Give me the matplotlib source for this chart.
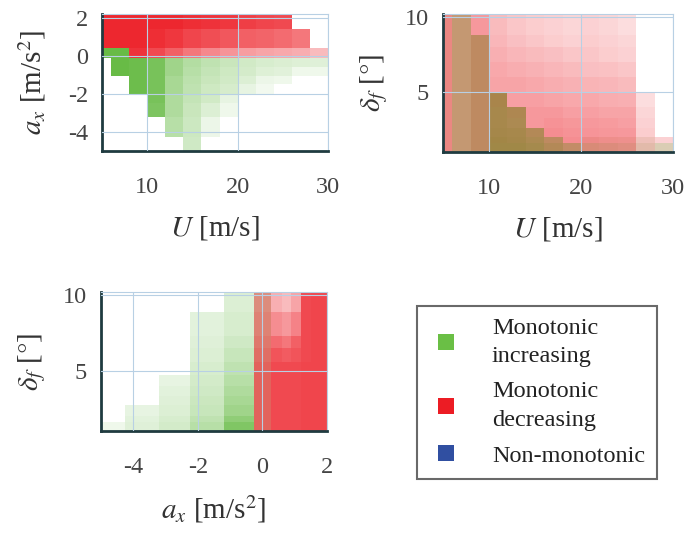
import numpy as np
import matplotlib
matplotlib.use("Agg")
import matplotlib.pyplot as plt
from matplotlib.colors import LinearSegmentedColormap
from matplotlib.lines import Line2D

plt.rcParams["font.family"] = ["Liberation Serif", "DejaVu Serif"]
plt.rcParams["mathtext.fontset"] = "stix"
plt.rcParams["axes.unicode_minus"] = False

# ---------------- data ----------------
# Speed bins (shared by the two speed panels)
U_edges = [5, 6, 8, 10, 12, 14, 16, 18, 20, 22, 24, 26, 28, 30]

# Panel 1: longitudinal acceleration bins, listed from top to bottom
ax_edges_p1 = [2.2, 1.4, 0.4, -0.1, -0.6, -1.05, -1.5, -2.0, -2.5, -3.2, -4.25, -5.0]
# share of monotonic-increasing / decreasing cases per cell (rows top to bottom)
inc_U_ax = [
    [0, 0, 0, 0, 0, 0, 0, 0, 0, 0, 0, 0, 0],
    [0, 0, 0, 0, 0, 0, 0, 0, 0, 0, 0, 0, 0],
    [.95, .95, 0, 0, 0, 0, 0, 0, 0, 0, 0, 0, 0],
    [0, .95, .92, .85, .6, .48, .4, .34, .29, .25, .23, .21, .2],
    [0, .95, .92, .85, .6, .45, .37, .31, .27, .21, .19, .1, .1],
    [0, 0, .92, .85, .55, .42, .34, .29, .22, .12, .1, 0, 0],
    [0, 0, .92, .85, .55, .4, .31, .26, .15, .08, 0, 0, 0],
    [0, 0, 0, .85, .5, .37, .29, .15, 0, 0, 0, 0, 0],
    [0, 0, 0, .82, .5, .34, .22, .1, 0, 0, 0, 0, 0],
    [0, 0, 0, 0, .45, .32, .12, 0, 0, 0, 0, 0, 0],
    [0, 0, 0, 0, 0, .3, 0, 0, 0, 0, 0, 0, 0],
]
dec_U_ax = [
    [.95, .95, .95, .95, .95, .92, .9, .88, .85, .82, .8, 0, 0],
    [.95, .95, .95, .92, .88, .82, .78, .74, .7, .68, .65, .6, 0],
    [0, 0, .9, .8, .7, .6, .52, .47, .43, .4, .38, .36, .3],
    [0] * 13, [0] * 13, [0] * 13, [0] * 13, [0] * 13, [0] * 13, [0] * 13, [0] * 13,
]

# Panel 2: steering angle bins, listed from top to bottom
delta_edges = [10.2, 8.8, 8.0, 7.0, 6.0, 5.0, 4.0, 3.3, 2.6, 2.0, 1.6, 1.0]
inc_U_delta = [
    [.15, .5, 0, 0, 0, 0, 0, 0, 0, 0, 0, 0, 0],
    [.15, .5, .6, 0, 0, 0, 0, 0, 0, 0, 0, 0, 0],
    [.15, .5, .6, 0, 0, 0, 0, 0, 0, 0, 0, 0, 0],
    [.15, .5, .6, 0, 0, 0, 0, 0, 0, 0, 0, 0, 0],
    [.15, .5, .6, 0, 0, 0, 0, 0, 0, 0, 0, 0, 0],
    [.15, .5, .6, .8, 0, 0, 0, 0, 0, 0, 0, 0, 0],
    [.15, .5, .6, .8, .75, 0, 0, 0, 0, 0, 0, 0, 0],
    [.15, .5, .6, .8, .75, 0, 0, 0, 0, 0, 0, 0, 0],
    [.15, .5, .6, .82, .8, .7, 0, 0, 0, 0, 0, 0, 0],
    [.15, .5, .6, .85, .82, .75, .6, 0, .1, .1, .1, .1, 0],
    [.15, .5, .6, .85, .85, .8, .7, .55, .35, .3, .25, .2, .25],
]
dec_U_delta = [
    [.5, .35, .45, .3, .25, .22, .2, .18, .2, .18, .15, 0, 0],
    [.5, .35, .4, .32, .28, .25, .22, .2, .22, .2, .18, 0, 0],
    [.5, .35, .4, .35, .32, .3, .28, .25, .25, .22, .2, 0, 0],
    [.5, .35, .4, .38, .36, .34, .32, .3, .28, .27, .25, 0, 0],
    [.5, .35, .4, .4, .4, .38, .36, .34, .33, .32, .3, 0, 0],
    [.5, .35, .4, .38, .42, .42, .4, .38, .38, .36, .35, .15, 0],
    [.5, .35, .4, .36, .38, .45, .45, .42, .42, .4, .4, .18, 0],
    [.5, .35, .4, .36, .36, .45, .48, .46, .45, .44, .42, .2, 0],
    [.5, .35, .4, .36, .36, .38, .5, .48, .47, .46, .45, .22, 0],
    [.5, .35, .4, .36, .36, .36, .4, .5, .5, .48, .47, .25, .2],
    [.5, .35, .4, .35, .35, .35, .38, .4, .45, .45, .45, .25, .15],
]

# Panel 3: acceleration bins (columns) and steering angle bins (rows, top to bottom)
ax_edges_p3 = [-5.0, -4.25, -3.2, -2.25, -1.2, -0.25, 0.25, 0.6, 0.9, 1.2, 1.5, 2.0]
delta_edges_p3 = [10.2, 8.9, 7.3, 6.5, 5.6, 4.7, 4.0, 3.3, 2.7, 2.0, 1.6, 1.0]
inc_ax_delta = [
    [0, 0, 0, 0, .22, .3, 0, 0, 0, 0, 0],
    [0, 0, 0, .18, .25, .3, 0, 0, 0, 0, 0],
    [0, 0, 0, .2, .3, .3, 0, 0, 0, 0, 0],
    [0, 0, 0, .22, .35, .3, 0, 0, 0, 0, 0],
    [0, 0, 0, .25, .4, .3, 0, 0, 0, 0, 0],
    [0, 0, .15, .28, .45, .3, 0, 0, 0, 0, 0],
    [0, 0, .18, .3, .5, .3, 0, 0, 0, 0, 0],
    [0, 0, .2, .33, .55, .3, 0, 0, 0, 0, 0],
    [0, .15, .22, .35, .6, .3, 0, 0, 0, 0, 0],
    [0, .18, .25, .4, .7, .3, 0, 0, 0, 0, 0],
    [.1, .2, .28, .45, .8, .3, 0, 0, 0, 0, 0],
]
dec_ax_delta = [
    [0, 0, 0, 0, 0, .45, .35, .3, .4, .8, .82],
    [0, 0, 0, 0, 0, .5, .5, .45, .55, .8, .82],
    [0, 0, 0, 0, 0, .55, .65, .6, .7, .8, .82],
    [0, 0, 0, 0, 0, .6, .75, .72, .75, .8, .82],
    [0, 0, 0, 0, 0, .65, .8, .8, .8, .82, .82],
    [0, 0, 0, 0, 0, .65, .8, .8, .8, .82, .82],
    [0, 0, 0, 0, 0, .65, .8, .8, .8, .82, .82],
    [0, 0, 0, 0, 0, .65, .8, .8, .8, .82, .82],
    [0, 0, 0, 0, 0, .65, .8, .8, .8, .82, .82],
    [0, 0, 0, 0, 0, .65, .8, .8, .8, .82, .82],
    [0, 0, 0, 0, 0, .65, .8, .8, .8, .82, .82],
]

legend_labels = ["Monotonic\nincreasing", "Monotonic\ndecreasing", "Non-monotonic"]

# ---------------- styling ----------------
GREEN = (0.38, 0.72, 0.24)
RED = (0.93, 0.11, 0.14)
BLUE = (0.19, 0.31, 0.63)
LEG_GREEN = "#6abf45"
LEG_RED = "#ec1c24"
DARK = "#1f3b40"
GRID = "#b8d0e4"
TICK_COLOR = "#444444"
LABEL_COLOR = "#333333"
FS = 17.5
LFS = 21


def alpha_cmap(rgb, name):
    return LinearSegmentedColormap.from_list(name, [(*rgb, 0.0), (*rgb, 1.0)])


CMAP_INC = alpha_cmap(GREEN, "inc")
CMAP_DEC = alpha_cmap(RED, "dec")


def draw_layer(ax, xe, ye_top_first, vals_top_first, cmap):
    ye = np.asarray(ye_top_first)[::-1]
    v = np.asarray(vals_top_first, dtype=float)[::-1]
    ax.pcolormesh(np.asarray(xe), ye, v, cmap=cmap, vmin=0, vmax=1,
                  shading="flat", edgecolors="none", antialiased=False, zorder=1)


def style_axes(ax, xlim, ylim, xticks, yticks):
    ax.set_xlim(*xlim)
    ax.set_ylim(*ylim)
    ax.set_xticks(xticks)
    ax.set_yticks(yticks)
    ax.set_axisbelow(False)
    ax.grid(True, color=GRID, lw=0.8)
    ax.tick_params(length=0, labelsize=FS, labelcolor=TICK_COLOR)
    ax.tick_params(axis="x", pad=19)
    ax.tick_params(axis="y", pad=10)
    for s in ("left", "bottom"):
        ax.spines[s].set_color(DARK)
        ax.spines[s].set_linewidth(2.0)
    for s in ("top", "right"):
        ax.spines[s].set_color(GRID)
        ax.spines[s].set_linewidth(0.8)


fig = plt.figure(figsize=(6.84, 5.34), dpi=100)
W, H = 684, 534


def add_axes_px(left, top, right, bottom):
    return fig.add_axes([left / W, 1 - bottom / H, (right - left) / W, (bottom - top) / H])


# Panel 1: U vs a_x
ax1 = add_axes_px(102, 14, 328, 151)
draw_layer(ax1, U_edges, ax_edges_p1, inc_U_ax, CMAP_INC)
draw_layer(ax1, U_edges, ax_edges_p1, dec_U_ax, CMAP_DEC)
style_axes(ax1, (5, 30), (-5, 2.2), [10, 20, 30], [-4, -2, 0, 2])
ax1.set_xlabel(r"$U$ [m/s]", fontsize=LFS, color=LABEL_COLOR, labelpad=11)
ax1.set_ylabel(r"$a_x$ [m/s$^2$]", fontsize=LFS, color=LABEL_COLOR, labelpad=14)

# Panel 2: U vs delta_f
ax2 = add_axes_px(443, 14, 673, 152)
draw_layer(ax2, U_edges, delta_edges, inc_U_delta, CMAP_INC)
draw_layer(ax2, U_edges, delta_edges, dec_U_delta, CMAP_DEC)
style_axes(ax2, (5, 30), (1, 10.2), [10, 20, 30], [5, 10])
ax2.set_xlabel(r"$U$ [m/s]", fontsize=LFS, color=LABEL_COLOR, labelpad=11)
ax2.set_ylabel(r"$\delta_f$ [$\degree$]", fontsize=LFS, color=LABEL_COLOR, labelpad=11)

# Panel 3: a_x vs delta_f
ax3 = add_axes_px(101, 292, 327, 431)
draw_layer(ax3, ax_edges_p3, delta_edges_p3, inc_ax_delta, CMAP_INC)
draw_layer(ax3, ax_edges_p3, delta_edges_p3, dec_ax_delta, CMAP_DEC)
style_axes(ax3, (-5, 2), (1, 10.2), [-4, -2, 0, 2], [5, 10])
ax3.set_xlabel(r"$a_x$ [m/s$^2$]", fontsize=LFS, color=LABEL_COLOR, labelpad=11)
ax3.set_ylabel(r"$\delta_f$ [$\degree$]", fontsize=LFS, color=LABEL_COLOR, labelpad=11)

# Legend
handles = [Line2D([], [], ls="", marker="s", markersize=11.5, color=c, markeredgewidth=0)
           for c in (LEG_GREEN, LEG_RED, BLUE)]
leg = fig.legend(handles, legend_labels, loc="upper left",
                 bbox_to_anchor=(417 / W, 1 - 306 / H), fontsize=FS,
                 frameon=True, fancybox=False, borderpad=0.5, handlelength=1.38,
                 handletextpad=1.2, labelspacing=0.58, borderaxespad=0)
leg.get_frame().set_edgecolor("#444444")
leg.get_frame().set_linewidth(1.5)
for t in leg.get_texts():
    t.set_color("#222222")
    t.set_linespacing(1.45)

fig.savefig("out.png", dpi=100, facecolor="white")
